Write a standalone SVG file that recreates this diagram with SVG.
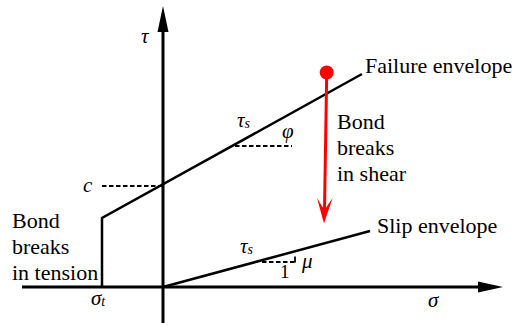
<svg xmlns="http://www.w3.org/2000/svg" width="517" height="326" viewBox="0 0 517 326">
<defs>
<style>
.ax{stroke:#000;stroke-width:3;fill:none}
.ln{stroke:#000;stroke-width:2.5;fill:none}
.dash{stroke:#000;stroke-width:1.8;stroke-dasharray:4.5,2.5;fill:none}
</style>
</defs>
<rect width="517" height="326" fill="#fff"/>
<g id="connectors">
<g id="axes">
<line class="ax" x1="163" y1="323" x2="163" y2="28"/>
<polygon points="163,6 157.5,32 168.5,32" fill="#000"/>
<line class="ax" x1="22" y1="287" x2="482" y2="287"/>
<polygon points="503,287 478,281.5 478,292.5" fill="#000"/>
</g>
<g id="failure-envelope">
<polyline class="ln" points="102,287 102,218 362,74"/>
<line class="dash" x1="102" y1="186" x2="163" y2="186"/>
<line class="dash" x1="235" y1="146" x2="292" y2="146"/>
</g>
<g id="slip-envelope">
<line class="ln" x1="163" y1="287" x2="370" y2="231"/>
<line class="dash" x1="262" y1="262" x2="295" y2="262"/>
<line stroke="#000" stroke-width="1.8" x1="295" y1="256.5" x2="295" y2="262.5"/>
</g>
<g id="shear-arrow">
<circle cx="326.7" cy="72.5" r="7" fill="#f00"/>
<line stroke="#f00" stroke-width="3" x1="326.7" y1="74" x2="324.5" y2="210"/>
<path d="M324,223.5 L317,198 L324.4,210 L332.6,198 Z" fill="#f00"/>
</g>
</g>
<g id="labels" font-family="Liberation Serif, serif" font-size="21" font-style="italic" fill="#000">
<text x="141" y="43">τ</text>
<text x="428" y="307">σ</text>
<text x="91" y="305">σ<tspan font-size="14" dy="1">t</tspan></text>
<text x="83" y="192">c</text>
<text x="237" y="127">τ<tspan font-size="14" dy="1">s</tspan></text>
<text x="282" y="138">φ</text>
<text x="240" y="253">τ<tspan font-size="14" dy="1">s</tspan></text>
<text x="280" y="278" font-size="19" font-style="normal">1</text>
<text x="302" y="268">μ</text>
</g>
<g id="text-labels" font-family="Liberation Serif, serif" font-size="22" fill="#000">
<g id="failure-label"><text x="365" y="73">Failure envelope</text></g>
<g id="slip-label"><text x="377" y="233">Slip envelope</text></g>
<g id="shear-label">
<text x="337" y="129">Bond</text>
<text x="337" y="155">breaks</text>
<text x="337" y="181">in shear</text>
</g>
<g id="tension-label">
<text x="12" y="228">Bond</text>
<text x="12" y="254">breaks</text>
<text x="12" y="280">in tension</text>
</g>
</g>
</svg>
